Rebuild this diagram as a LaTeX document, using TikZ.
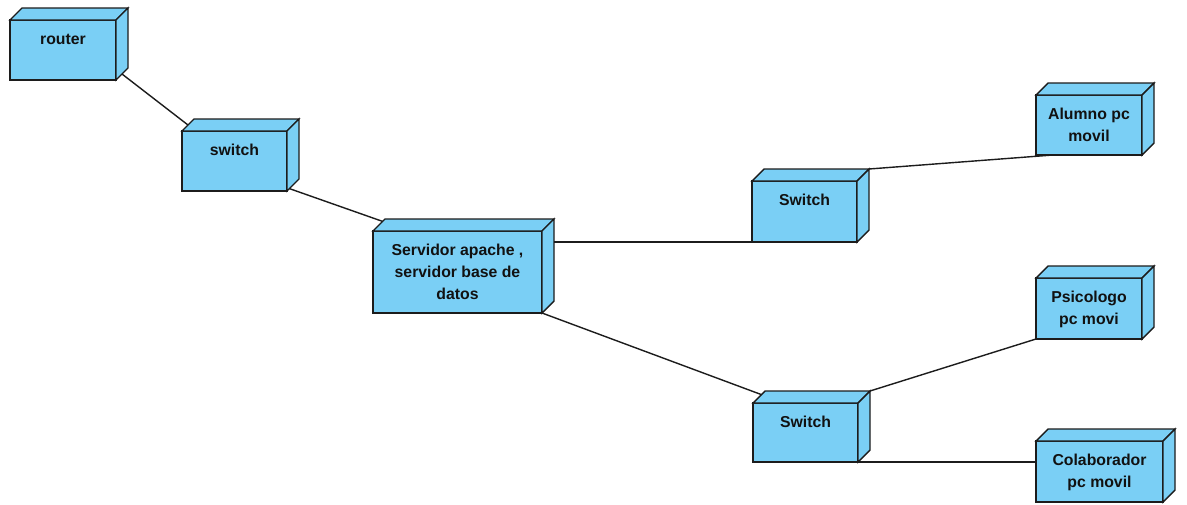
\documentclass[tikz,border=0pt]{standalone}
\usepackage{fontspec}
\setmainfont{Liberation Sans}
\usetikzlibrary{calc}
\definecolor{nodefill}{HTML}{7ACFF5}
\definecolor{edge}{HTML}{1C1C1C}
\definecolor{ink}{HTML}{111111}
\tikzset{
  boxface/.style={fill=nodefill, draw=edge, line width=1.4pt, line join=miter},
  frontface/.style={boxface, rectangle, inner sep=0pt, outer sep=0pt},
  boxtext/.style={text=ink, inner sep=0pt, anchor=base,
    font=\fontsize{15.8}{22}\selectfont\bfseries},
  wire/.style={draw=edge, line width=1.4pt},
}
% 3D deployment box: name, left, top, width, height, label
\newcommand\devbox[6]{%
  \node[frontface, minimum width=#4pt, minimum height=#5pt, anchor=north west]
    (#1) at (#2,#3) {};
  \path[boxface] (#1.north west) -- ++(12,-12) -- ++(#4,0) -- (#1.north east) -- cycle;
  \path[boxface] (#1.north east) -- ++(12,-12) -- ++(0,#5) -- (#1.south east) -- cycle;
  \coordinate (#1-ftl) at (#1.north west);
  \coordinate (#1-ftr) at (#1.north east);
  \coordinate (#1-fbl) at (#1.south west);
  \coordinate (#1-fbr) at (#1.south east);
  \coordinate (#1-btl) at ($(#1.north west)+(12,-12)$);
  \coordinate (#1-btr) at ($(#1.north east)+(12,-12)$);
  \coordinate (#1-bbr) at ($(#1.south east)+(12,-12)$);
  \node[boxtext] (#1-txt) at ($(#1.north)+(0,24)$)
    {\begin{tabular}[t]{@{}c@{}}#6\end{tabular}};
}
\begin{document}
\begin{tikzpicture}[x=1pt,y=-1pt]
  \useasboundingbox (0,0) rectangle (1187,504);
  \fill[white] (0,0) rectangle (1187,504);

  \devbox{router}{10}{20}{106}{60}{router}
  \devbox{sw}{182}{131}{105}{60}{switch}
  \devbox{srv}{373}{231}{169}{82}{Servidor apache ,\\servidor base de\\datos}
  \devbox{swA}{752}{181}{105}{61}{Switch}
  \devbox{swB}{753}{403}{105}{59}{Switch}
  \devbox{alumno}{1036}{95}{106}{60}{Alumno pc\\movil}
  \devbox{psico}{1036}{278}{106}{61}{Psicologo\\pc movi}
  \devbox{colab}{1036}{441}{127}{61}{Colaborador\\pc movil}

  % network links
  \draw[wire] ($(router-fbr)!0.5!(router-bbr)$) -- ($(sw-ftl)!0.5!(sw-btl)$);
  \draw[wire] ($(sw-fbr)!0.2!(sw-bbr)$) -- ($(srv-ftl)!0.8!(srv-btl)$);
  \draw[wire] (swA-fbl -| srv-btr) -- (swA-fbl);
  \draw[wire] (srv-fbr) -- ($(swB-ftl)!0.7!(swB-btl)$);
  \draw[wire] (swA-btr) -- ($(alumno-fbl)+(17,0)$);
  \draw[wire] (swB-btr) -- (psico-fbl);
  \draw[wire] (swB-fbr) -- (swB-fbr -| colab-fbl);
\end{tikzpicture}
\end{document}
